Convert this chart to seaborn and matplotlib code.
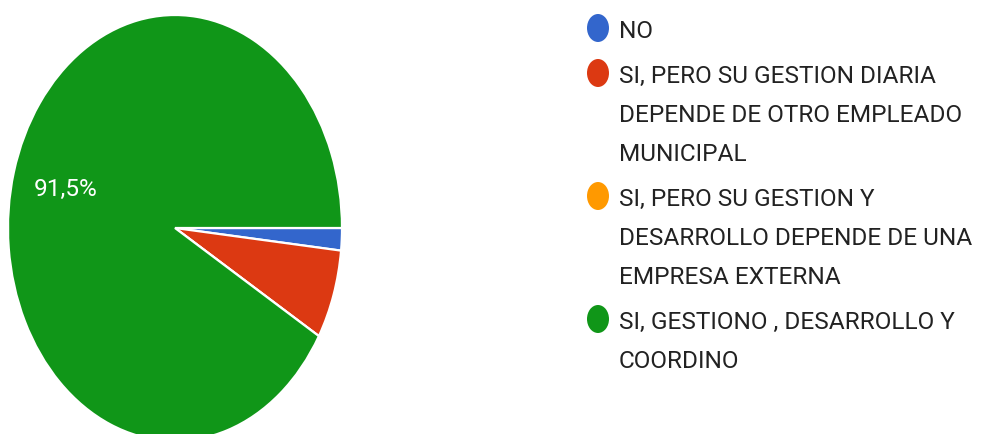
import matplotlib
matplotlib.use('Agg')
import matplotlib.pyplot as plt
from matplotlib import font_manager
from matplotlib.patches import Ellipse
import seaborn as sns

# survey answers (counts: 1 / 4 / 0 / 54 of 59)
labels = [
    'NO',
    'SI, PERO SU GESTION DIARIA\nDEPENDE DE OTRO EMPLEADO\nMUNICIPAL',
    'SI, PERO SU GESTION Y\nDESARROLLO DEPENDE DE UNA\nEMPRESA EXTERNA',
    'SI, GESTIONO , DESARROLLO Y\nCOORDINO',
]
counts = [1, 4, 0, 54]
colors = ['#3366CC', '#DC3912', '#FF9900', '#109618']

sns.set_theme(style='white')
names = {f.name for f in font_manager.fontManager.ttflist}
if 'Liberation Sans Narrow' in names:
    family, fsize = 'Liberation Sans Narrow', 19.5
else:
    family, fsize = 'Roboto', 17.6
plt.rcParams['font.family'] = [family, 'DejaVu Sans']

W, H, DPI = 981, 434, 100
fig = plt.figure(figsize=(W / DPI, H / DPI), dpi=DPI)
fig.patch.set_facecolor('white')

# pie is squashed into an ellipse, bottom runs off the image
ax = fig.add_axes([8 / W, -7 / H, 334 / W, 426 / H])
palette = sns.color_palette(colors)


def pct_fmt(p):
    return f'{p:.1f}%'.replace('.', ',') if p > 50 else ''


wedges, texts, autotexts = ax.pie(
    counts, colors=palette, startangle=0, counterclock=False,
    autopct=pct_fmt, pctdistance=0.68,
    wedgeprops=dict(edgecolor='white', linewidth=1.6),
    textprops=dict(color='white', fontsize=fsize),
)
ax.set_aspect('auto')
ax.set_xlim(-1, 1)
ax.set_ylim(-1, 1)
ax.axis('off')

# legend drawn by hand so markers sit on the first line
y = 38
for lab, col in zip(labels, palette):
    cy = y - 10
    fig.patches.append(Ellipse((598 / DPI, (H - cy) / DPI), 0.22, 0.28,
                               transform=fig.dpi_scale_trans,
                               facecolor=col, edgecolor='none'))
    for line in lab.split('\n'):
        fig.text(619 / W, 1 - y / H, line, fontsize=fsize, color='#222222',
                 va='baseline', ha='left')
        y += 39
    y += 6

fig.savefig('out.png', dpi=DPI, facecolor='white')
